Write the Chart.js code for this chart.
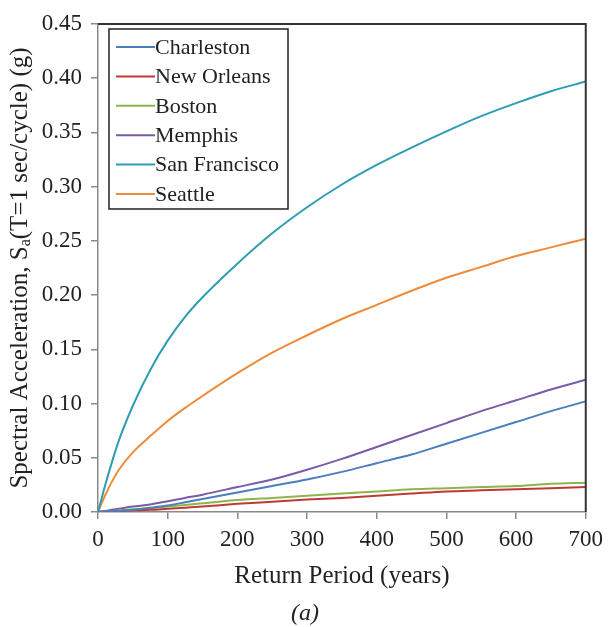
<!DOCTYPE html>
<html>
<head>
<meta charset="utf-8">
<script src="https://cdn.jsdelivr.net/npm/chart.js@4/dist/chart.umd.min.js"></script>
<style>
  html, body { margin: 0; padding: 0; background: #fff; }
  canvas { display: block; }
</style>
</head>
<body>
<canvas id="c" width="610" height="627"></canvas>
<script>
// Return period (years) and spectral acceleration Sa(T=1 s) in g
const returnPeriods = [0, 10, 20, 30, 50, 75, 100, 125, 150, 200, 250, 300, 350, 400, 450, 500, 550, 600, 650, 700];
const charleston   = [0, 0.0003, 0.0006, 0.001, 0.002, 0.004, 0.006, 0.009, 0.012, 0.018, 0.024, 0.030, 0.037, 0.045, 0.053, 0.063, 0.073, 0.083, 0.093, 0.102];
const newOrleans   = [0, 0.0003, 0.0006, 0.001, 0.0015, 0.002, 0.003, 0.004, 0.005, 0.0075, 0.0095, 0.0115, 0.013, 0.015, 0.017, 0.019, 0.020, 0.021, 0.022, 0.023];
const boston       = [0, 0.0005, 0.001, 0.0015, 0.0025, 0.0035, 0.005, 0.0065, 0.008, 0.011, 0.013, 0.015, 0.017, 0.019, 0.021, 0.022, 0.023, 0.024, 0.026, 0.027];
const memphis      = [0, 0.001, 0.002, 0.003, 0.005, 0.007, 0.010, 0.013, 0.016, 0.023, 0.030, 0.039, 0.049, 0.060, 0.071, 0.082, 0.093, 0.103, 0.113, 0.122];
const sanFrancisco = [0, 0.024, 0.046, 0.066, 0.098, 0.131, 0.158, 0.180, 0.198, 0.229, 0.257, 0.281, 0.302, 0.320, 0.336, 0.351, 0.365, 0.377, 0.388, 0.397];
const seattle      = [0, 0.015, 0.028, 0.039, 0.055, 0.070, 0.084, 0.096, 0.107, 0.128, 0.147, 0.163, 0.178, 0.191, 0.204, 0.216, 0.226, 0.236, 0.244, 0.252];

const cityNames  = ['Charleston', 'New Orleans', 'Boston', 'Memphis', 'San Francisco', 'Seattle'];
const cityValues = [charleston, newOrleans, boston, memphis, sanFrancisco, seattle];
const cityColors = ['#4A7EBF', '#BF3A35', '#8DB54A', '#7A5BA8', '#2E9DB3', '#EE8B3A'];

const xTitle = 'Return Period (years)';
const yTitleParts = ['Spectral Acceleration, S', 'a', '(T=1 sec/cycle) (g)'];
const caption = '(a)';

const FONT = '"Liberation Serif", "Times New Roman", serif';
const TEXT = '#222';

const datasets = cityNames.map((name, i) => ({
  label: name,
  data: returnPeriods.map((x, j) => ({ x, y: cityValues[i][j] })),
  borderColor: cityColors[i],
  backgroundColor: cityColors[i],
  borderWidth: 2,
  pointRadius: 0,
  cubicInterpolationMode: 'monotone',
  fill: false
}));

// Boxed legend in the upper-left corner of the plot area
const legendBox = {
  id: 'legendBox',
  afterDraw(chart) {
    const { ctx, chartArea } = chart;
    const x = chartArea.left + 11, y = chartArea.top + 5, w = 179, h = 180;
    ctx.save();
    ctx.fillStyle = '#fff';
    ctx.fillRect(x, y, w, h);
    ctx.strokeStyle = '#222';
    ctx.lineWidth = 1.5;
    ctx.strokeRect(x, y, w, h);
    ctx.font = '22px ' + FONT;
    ctx.textBaseline = 'middle';
    ctx.textAlign = 'left';
    chart.data.datasets.forEach((ds, i) => {
      const yy = y + 18 + i * 29.4;
      ctx.strokeStyle = ds.borderColor;
      ctx.lineWidth = 2;
      ctx.beginPath();
      ctx.moveTo(x + 7, yy);
      ctx.lineTo(x + 46, yy);
      ctx.stroke();
      ctx.fillStyle = TEXT;
      ctx.fillText(ds.label, x + 46, yy + 1);
    });
    ctx.restore();
  }
};

// Dark frame on the top and right, axis titles and caption
const frameAndTitles = {
  id: 'frameAndTitles',
  afterDraw(chart) {
    const { ctx, chartArea } = chart;
    const { left, right, top, bottom } = chartArea;
    ctx.save();
    ctx.strokeStyle = '#333';
    ctx.lineWidth = 2;
    ctx.beginPath();
    ctx.moveTo(left, top);
    ctx.lineTo(right, top);
    ctx.lineTo(right, bottom);
    ctx.stroke();

    ctx.fillStyle = TEXT;
    ctx.textBaseline = 'middle';
    ctx.textAlign = 'center';
    ctx.font = '25px ' + FONT;
    ctx.fillText(xTitle, (left + right) / 2, 576);

    // rotated y title with subscript
    ctx.save();
    ctx.translate(20, (top + bottom) / 2);
    ctx.rotate(-Math.PI / 2);
    ctx.textAlign = 'left';
    const big = '25px ' + FONT, small = '16px ' + FONT;
    ctx.font = big;  const w0 = ctx.measureText(yTitleParts[0]).width;
    ctx.font = small; const w1 = ctx.measureText(yTitleParts[1]).width;
    ctx.font = big;  const w2 = ctx.measureText(yTitleParts[2]).width;
    let cx = -(w0 + w1 + w2) / 2;
    ctx.font = big;  ctx.fillText(yTitleParts[0], cx, 0); cx += w0;
    ctx.font = small; ctx.fillText(yTitleParts[1], cx, 6); cx += w1;
    ctx.font = big;  ctx.fillText(yTitleParts[2], cx, 0);
    ctx.restore();

    ctx.font = 'italic 24px ' + FONT;
    ctx.textAlign = 'center';
    ctx.fillText(caption, chart.width / 2, 614);
    ctx.restore();
  }
};

new Chart(document.getElementById('c'), {
  type: 'line',
  data: { datasets },
  plugins: [legendBox, frameAndTitles],
  options: {
    responsive: false,
    animation: false,
    events: [],
    layout: { padding: { top: 24, right: 19, left: 0, bottom: 0 } },
    plugins: { legend: { display: false }, tooltip: { enabled: false } },
    scales: {
      x: {
        type: 'linear',
        min: 0, max: 700,
        afterFit(scale) { scale.height = 115; },
        grid: { drawOnChartArea: false, color: '#8a8a8a', tickLength: 7, lineWidth: 1.5 },
        border: { color: '#8a8a8a', width: 1.5 },
        ticks: { stepSize: 100, padding: 7, color: TEXT, font: { family: FONT, size: 23 }, maxRotation: 0 }
      },
      y: {
        min: 0, max: 0.45,
        afterFit(scale) { scale.width = 98; },
        grid: { drawOnChartArea: false, color: '#8a8a8a', tickLength: 7, lineWidth: 1.5 },
        border: { color: '#8a8a8a', width: 1.5 },
        ticks: { stepSize: 0.05, padding: 9, color: TEXT, font: { family: FONT, size: 23 },
                 callback: v => v.toFixed(2) }
      }
    }
  }
});
</script>
</body>
</html>
